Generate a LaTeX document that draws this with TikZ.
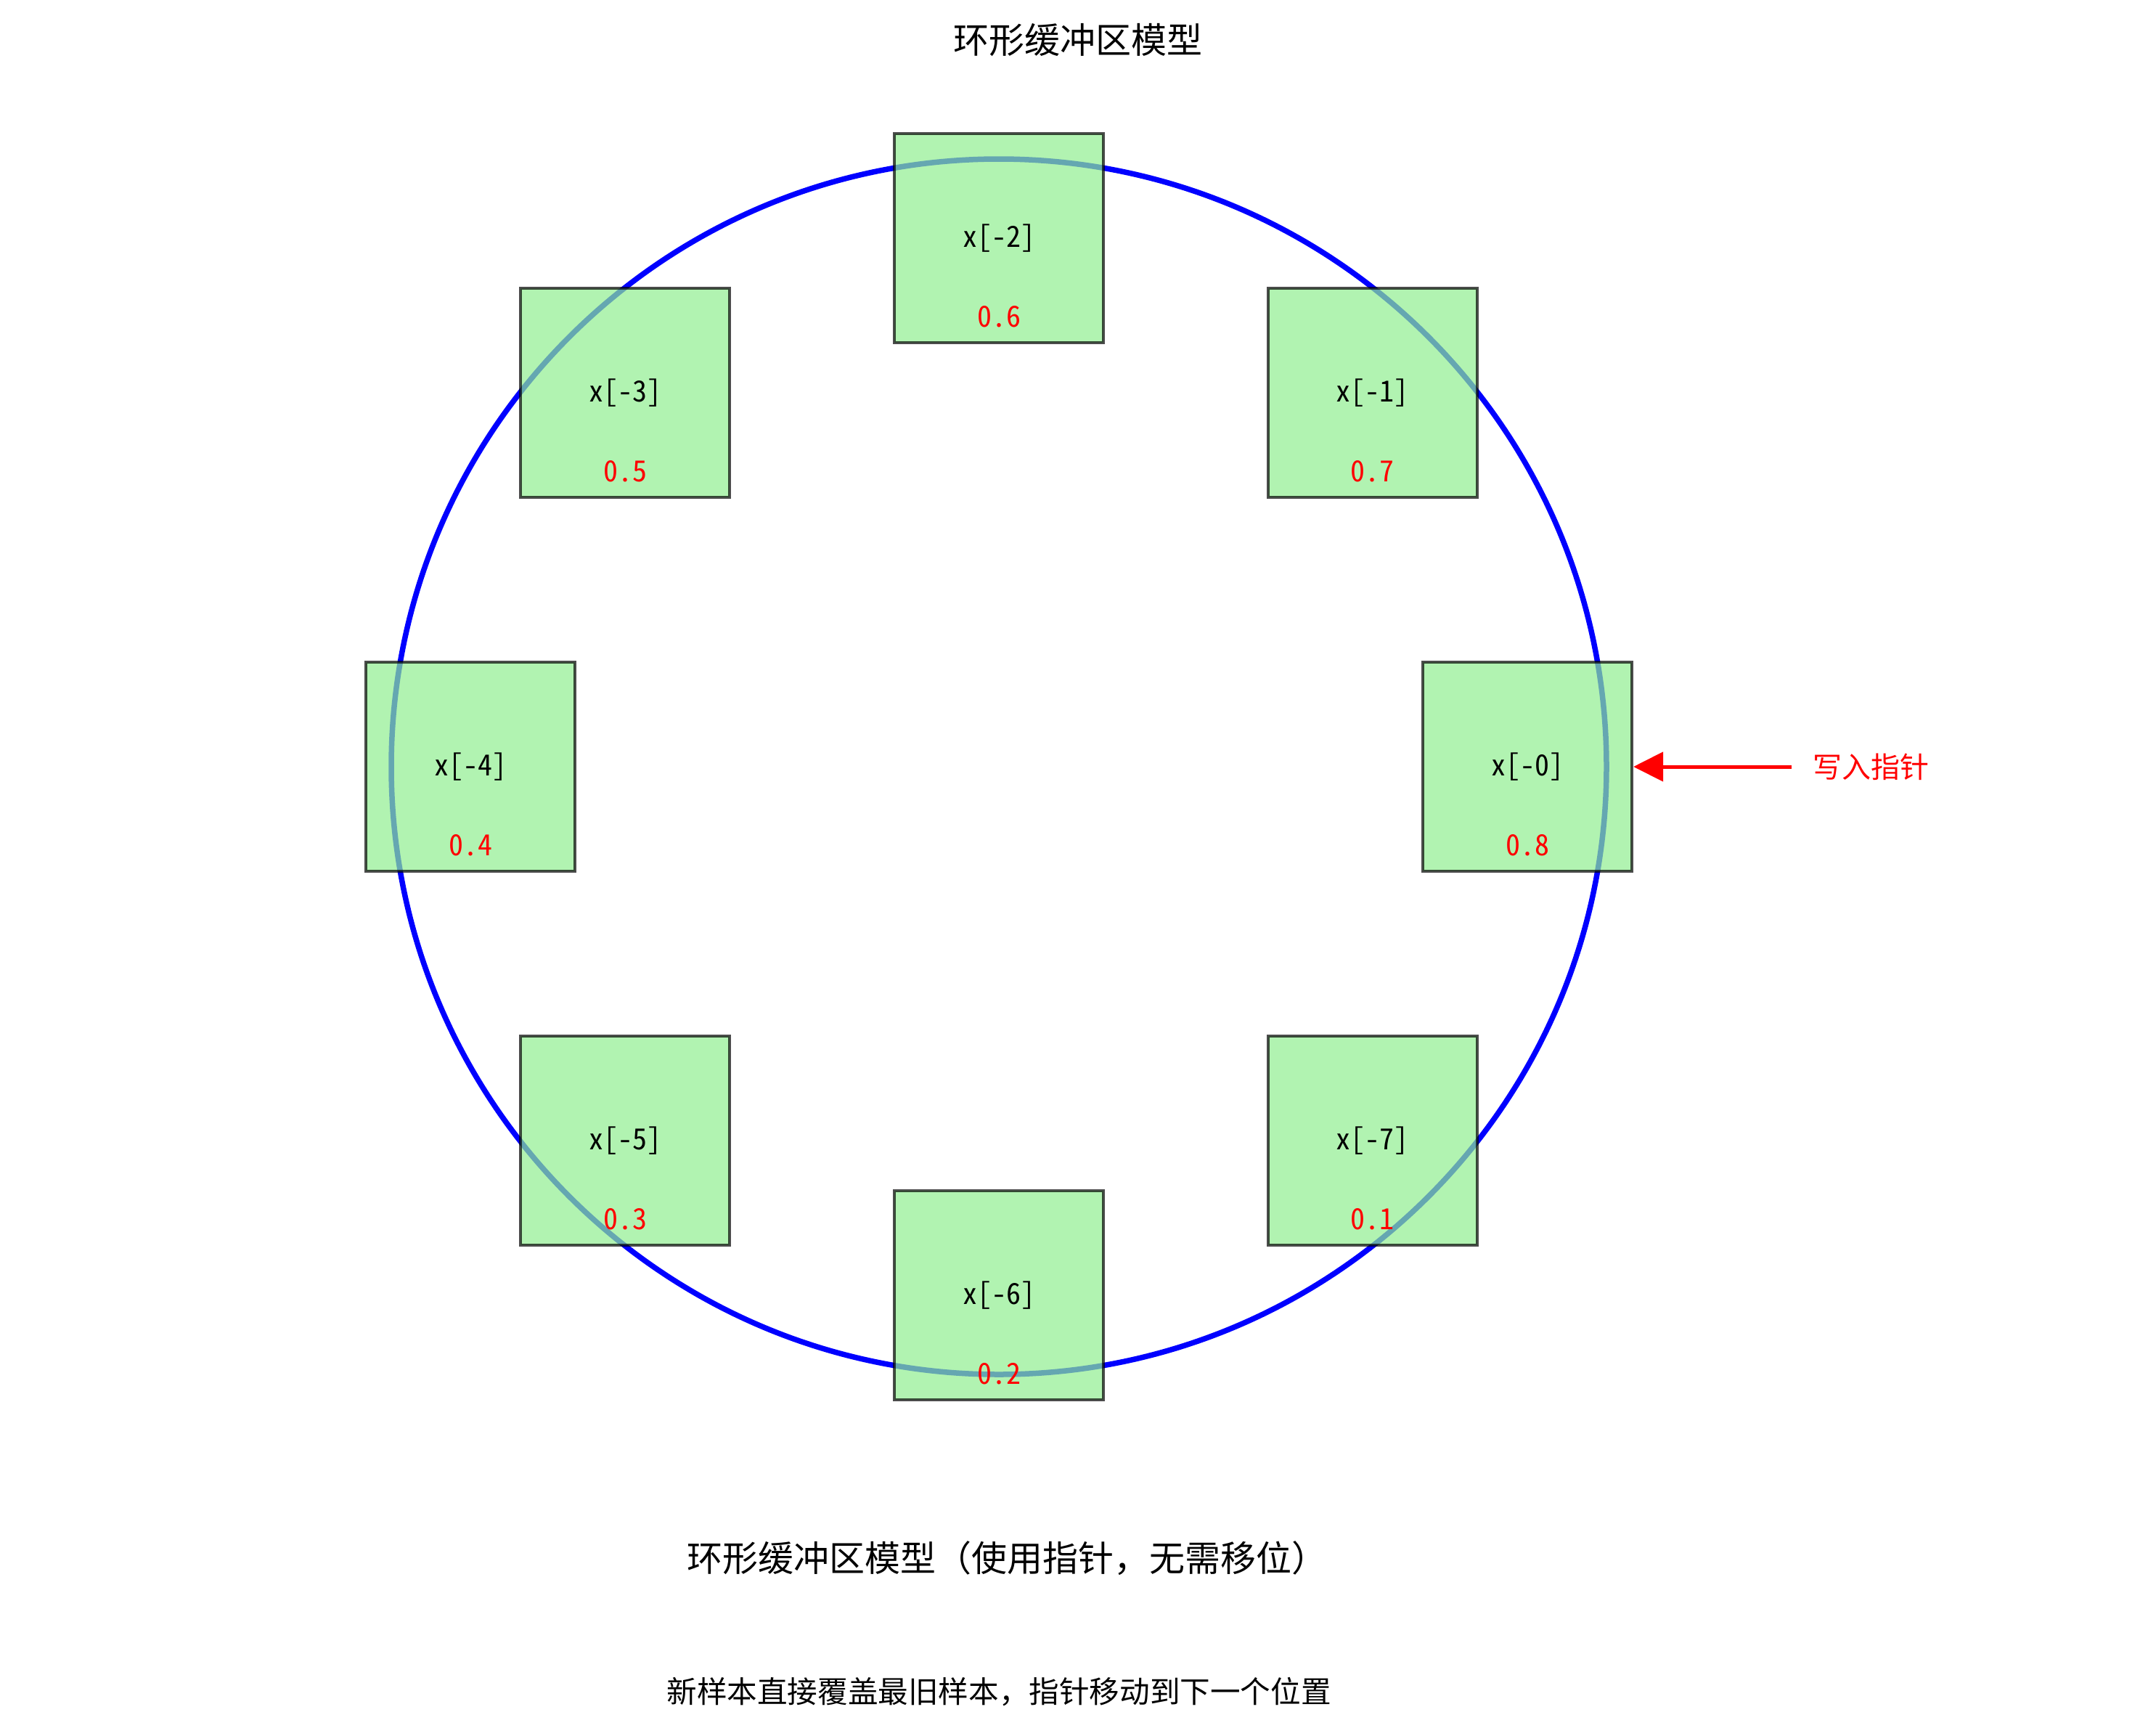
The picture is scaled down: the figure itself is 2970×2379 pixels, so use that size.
\documentclass[tikz,border=0pt]{standalone}
\usepackage{fontspec}
\setmainfont{Noto Sans CJK SC}
\newfontfamily\hwfont[RawFeature=+hwid]{Noto Sans CJK SC}
\usetikzlibrary{arrows.meta}
\definecolor{boxgreen}{RGB}{144,238,144}
\tikzset{
  slot/.style={rectangle, draw=black, fill=boxgreen, opacity=0.7, line width=4.2pt,
    minimum size=288pt, inner sep=0pt},
  idx/.style={font=\hwfont\fontsize{40}{48}\selectfont, text=black, inner sep=0pt},
  val/.style={font=\hwfont\fontsize{40}{48}\selectfont, text=red, inner sep=0pt},
  ring/.style={draw=blue, line width=7.5pt},
  ptrarrow/.style={draw=red, line width=5pt, -{Triangle[length=41pt,width=40pt]}},
  ttl/.style={font=\fontsize{49}{58}\selectfont, inner sep=0pt},
  note/.style={font=\fontsize{41.6}{50}\selectfont, inner sep=0pt}
}
\begin{document}
\begin{tikzpicture}[x=1pt,y=-1pt]
\useasboundingbox (0,0) rectangle (2970,2379);
\node[ttl] (title) at (1485,55) {环形缓冲区模型};
\coordinate (c) at (1376,1056);
\draw[ring] (c) circle[radius=837pt];
\node[slot] (b0) at (2104,1056) {};
\node[slot] (b1) at (1890.8,541.2) {};
\node[slot] (b2) at (1376,328) {};
\node[slot] (b3) at (861.2,541.2) {};
\node[slot] (b4) at (648,1056) {};
\node[slot] (b5) at (861.2,1570.8) {};
\node[slot] (b6) at (1376,1784) {};
\node[slot] (b7) at (1890.8,1570.8) {};
\foreach \n/\v in {0/0.8,1/0.7,2/0.6,3/0.5,4/0.4,5/0.3,6/0.2,7/0.1}{
  \node[idx] (i\n) at (b\n) {x[-\n]};
  \node[val] (v\n) at ([yshift=-108pt]b\n.center) {\v};
}
\coordinate (ptr) at (2468,1056);
\draw[ptrarrow] (ptr) -- (b0.east);
\node[font=\fontsize{40}{48}\selectfont, text=red, inner sep=0pt] (plabel) at (2577,1056) {写入指针};
\node[ttl] (cap1) at (1387,2146) {环形缓冲区模型（使用指针，无需移位）};
\node[note] (cap2) at (1376,2330) {新样本直接覆盖最旧样本，指针移动到下一个位置};
\end{tikzpicture}
\end{document}
